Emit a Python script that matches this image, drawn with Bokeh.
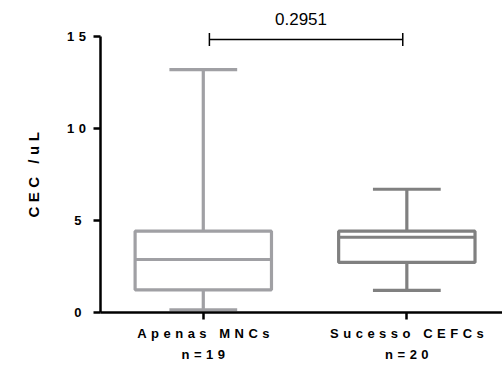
from bokeh.plotting import figure
from bokeh.models import Range1d, FixedTicker, LinearAxis, Div, InlineStyleSheet, ColumnDataSource, Title
from bokeh.layouts import column
from bokeh.embed import file_html
from bokeh.resources import INLINE

# ---- data ----
categories = ["Apenas MNCs", "Sucesso CEFCs"]
n_labels = ["n=19", "n=20"]
positions = [1, 2]
whisker_low = [0.15, 1.2]
q1 = [1.23, 2.72]
median = [2.88, 4.09]
q3 = [4.42, 4.42]
whisker_high = [13.2, 6.7]
colors = ["#A0A0A4", "#808080"]
y_ticks = [0, 5, 10, 15]
y_label = "CEC /uL"
p_value_text = "0.2951"
p_value_y = 14.84

BOX_W = 0.67
CAP_W = 0.333
FONT = "Liberation Sans"
LS = 4.5  # letter spacing (px)

X_START, X_END = 0.495, 2.47
FRAME_W = 403
PX_PER_UNIT = FRAME_W / (X_END - X_START)

p = figure(width=502, height=342, title=None,
           x_range=Range1d(X_START, X_END), y_range=Range1d(0, 15.33),
           output_backend="svg", toolbar_location=None,
           min_border_left=99, min_border_right=0, min_border_top=0, min_border_bottom=60)
p.xgrid.visible = False
p.ygrid.visible = False
p.outline_line_color = None
p.background_fill_color = "white"
p.border_fill_color = "white"
p.stylesheets = [InlineStyleSheet(css=":host { letter-spacing: %spx; }" % LS)]

src = ColumnDataSource(dict(
    x=positions, lo=whisker_low, q1=q1, med=median, q3=q3, hi=whisker_high, color=colors,
    xl=[x - BOX_W / 2 for x in positions], xr=[x + BOX_W / 2 for x in positions],
    cl=[x - CAP_W / 2 for x in positions], cr=[x + CAP_W / 2 for x in positions],
))

LW = 3.2
p.segment(x0="x", x1="x", y0="q3", y1="hi", line_color="color", line_width=LW, source=src)
p.segment(x0="x", x1="x", y0="q1", y1="lo", line_color="color", line_width=LW, source=src)
p.segment(x0="cl", x1="cr", y0="hi", y1="hi", line_color="color", line_width=LW, source=src)
p.segment(x0="cl", x1="cr", y0="lo", y1="lo", line_color="color", line_width=LW, source=src)
p.vbar(x="x", width=BOX_W, bottom="q1", top="q3", fill_color="white", line_color="color",
       line_width=LW, source=src)
p.segment(x0="xl", x1="xr", y0="med", y1="med", line_color="color", line_width=LW, source=src)

# significance bracket
bx0 = positions[0] + 0.03
bx1 = positions[1] - 0.02
tick_h = 0.35
p.segment(x0=[bx0], x1=[bx1], y0=[p_value_y], y1=[p_value_y], line_color="black", line_width=1.5)
p.segment(x0=[bx0, bx1], x1=[bx0, bx1], y0=[p_value_y - tick_h] * 2, y1=[p_value_y + tick_h] * 2,
          line_color="black", line_width=1.5)

def style_labels(ax, standoff):
    ax.major_label_text_font = FONT
    ax.major_label_text_font_style = "bold"
    ax.major_label_text_font_size = "13px"
    ax.major_label_text_color = "black"
    ax.major_label_standoff = standoff

# y axis
ya = p.yaxis[0]
ya.ticker = FixedTicker(ticks=y_ticks)
ya.bounds = (0, 15)
ya.axis_line_width = 2.5
ya.axis_line_color = "black"
ya.major_tick_line_width = 2.5
ya.major_tick_line_color = "black"
ya.major_tick_out = 7
ya.major_tick_in = 0
ya.minor_tick_line_color = None
style_labels(ya, 12)

# y axis title (left-aligned so letter spacing grows upward)
ytitle = Title(text=y_label, align="left", offset=95, standoff=45,
               text_font=FONT, text_font_style="bold", text_font_size="15px", text_color="black")
p.add_layout(ytitle, "left")

def shifted(labels):
    # compensate for letter spacing, which extends each label to the right
    return [pos - (len(lab) - 1) * LS / 2 / PX_PER_UNIT for pos, lab in zip(positions, labels)]

# x axis: category labels (major, shifted) + tick marks at the category positions (minor)
cat_ticks = shifted(categories)
xa = p.xaxis[0]
xa.ticker = FixedTicker(ticks=cat_ticks, minor_ticks=positions)
xa.major_label_overrides = {t: lab for t, lab in zip(cat_ticks, categories)}
xa.axis_line_width = 2.5
xa.axis_line_color = "black"
xa.major_tick_line_color = None
xa.major_tick_out = 7
xa.major_tick_in = 0
xa.minor_tick_line_color = "black"
xa.minor_tick_line_width = 2.5
xa.minor_tick_out = 7
xa.minor_tick_in = 0
style_labels(xa, 6)

# second row: group sizes
n_ticks = shifted(n_labels)
xb = LinearAxis(ticker=FixedTicker(ticks=n_ticks),
                major_label_overrides={t: lab for t, lab in zip(n_ticks, n_labels)})
xb.axis_line_color = None
xb.major_tick_line_color = None
xb.minor_tick_line_color = None
xb.major_tick_out = 0
xb.major_tick_in = 0
style_labels(xb, 3)
p.add_layout(xb, "below")

head = Div(text=('<div style="width:402px;margin-left:100px;padding-top:10px;text-align:center;'
                 'font-family:\'Liberation Sans\';font-size:17px;line-height:19px;'
                 'letter-spacing:0;color:black">' + p_value_text + '</div>'),
           width=502, height=30, margin=(0, 0, 0, 0))

layout = column(head, p, spacing=0)
open("out.html", "w").write(file_html(layout, INLINE))
